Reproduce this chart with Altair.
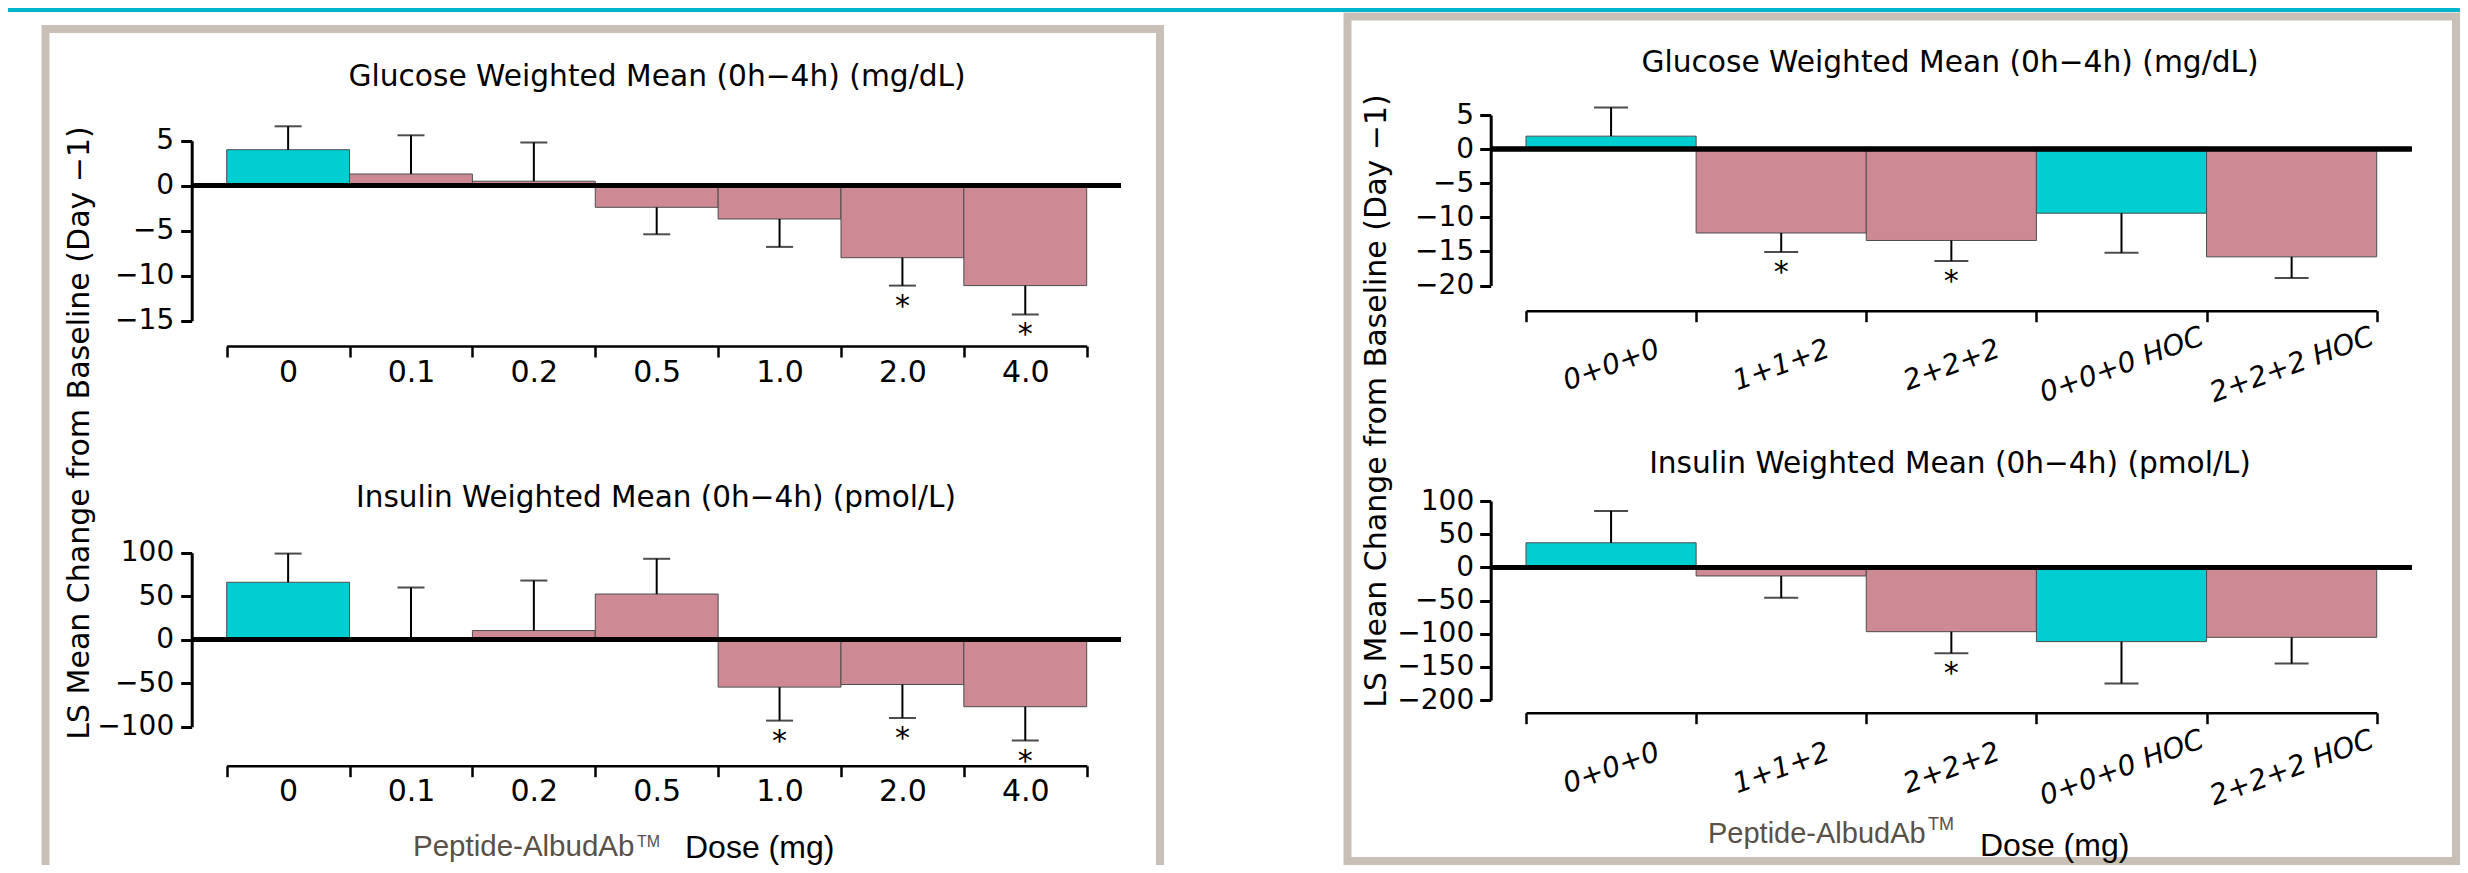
import altair as alt
import pandas as pd

# ---------------- data ----------------
dose_labels = ["0", "0.1", "0.2", "0.5", "1.0", "2.0", "4.0"]
dose_group = ["placebo", "active", "active", "active", "active", "active", "active"]
glucose_dose_mean = [4.0, 1.3, 0.5, -2.4, -3.7, -8.0, -11.1]
glucose_dose_err = [6.6, 5.6, 4.8, -5.4, -6.8, -11.1, -14.3]
glucose_dose_sig = [False, False, False, False, False, True, True]
insulin_dose_mean = [66, 2, 10.5, 52.5, -54.5, -51.5, -77]
insulin_dose_err = [99, 60, 68, 93, -93, -90, -116]
insulin_dose_sig = [False, False, False, False, True, True, True]

regimen_labels = ["0+0+0", "1+1+2", "2+2+2", "0+0+0 HOC", "2+2+2 HOC"]
regimen_group = ["placebo", "active", "active", "placebo", "active"]
glucose_reg_mean = [1.9, -12.3, -13.4, -9.4, -15.8]
glucose_reg_err = [6.1, -15.1, -16.4, -15.2, -18.9]
glucose_reg_sig = [False, True, True, False, False]
insulin_reg_mean = [37, -13, -97, -112, -105.5]
insulin_reg_err = [85, -46, -129.5, -175, -145]
insulin_reg_sig = [False, False, True, False, False]

glucose_ticks_dose = [-15, -10, -5, 0, 5]
insulin_ticks_dose = [-100, -50, 0, 50, 100]
glucose_ticks_reg = [-20, -15, -10, -5, 0, 5]
insulin_ticks_reg = [-200, -150, -100, -50, 0, 50, 100]

title_glucose = "Glucose Weighted Mean (0h\u22124h) (mg/dL)"
title_insulin = "Insulin Weighted Mean (0h\u22124h) (pmol/L)"
y_title = "LS Mean Change from Baseline (Day \u22121)"

# ---------------- style ----------------
W, H = 2452, 857
TEAL = "#00CED1"
ROSE = "#CD8A94"
FRAME = "#C8BFB6"
BAND = "#00B5CB"
CHART_FONT = "DejaVu Sans"
NOTE_FONT = "Liberation Sans"

color_scale = alt.Scale(domain=["placebo", "active"], range=[TEAL, ROSE])


def panel(cats, groups, means, errs, sigs, ydom, ypx, yticks, band, axis_x,
          axis_y, zero_end, cap, angle, lab_size, lab_pad, ylab_pad):
    df = pd.DataFrame({"cat": cats, "grp": groups, "mean": means,
                       "err": errs, "sig": sigs})
    xs = alt.Scale(domain=cats, range=list(band), paddingInner=0, paddingOuter=0)
    ys = alt.Scale(domain=list(ydom), range=list(ypx), nice=False, zero=False)
    if angle == 0:
        xaxis = alt.Axis(orient="bottom", offset=axis_y - H, tickBand="extent",
                         tickSize=11, tickWidth=2.5, domainWidth=2.5,
                         labelAngle=0, labelFontSize=lab_size,
                         labelPadding=lab_pad, labelOverlap=False,
                         labelLimit=400, title=None)
    else:
        xaxis = alt.Axis(orient="bottom", offset=axis_y - H, tickBand="extent",
                         tickSize=11, tickWidth=2.5, domainWidth=2.5,
                         labelAngle=angle, labelAlign="center",
                         labelBaseline="middle", labelFontSize=lab_size,
                         labelFontStyle="italic",
                         labelPadding=lab_pad, labelOverlap=False,
                         labelLimit=400, title=None)
    yaxis = alt.Axis(orient="left", offset=-axis_x, values=yticks,
                     tickSize=11, tickWidth=3, domainWidth=3,
                     labelFontSize=28, labelPadding=ylab_pad,
                     labelOverlap=False, title=None)
    base = alt.Chart(df)
    bars = base.mark_bar(stroke="#4d4d4d", strokeWidth=1).encode(
        x=alt.X("cat:N", scale=xs, axis=xaxis, sort=cats),
        y=alt.Y("mean:Q", scale=ys, axis=yaxis),
        y2=alt.datum(0),
        color=alt.Color("grp:N", scale=color_scale, legend=None),
    )
    err = base.mark_rule(color="black", strokeWidth=2).encode(
        x=alt.X("cat:N", sort=cats), y="mean:Q", y2="err:Q")
    caps = base.mark_tick(color="black", thickness=2, size=cap).encode(
        x=alt.X("cat:N", sort=cats), y="err:Q")
    stars = base.transform_filter("datum.sig").mark_text(
        text="*", font=CHART_FONT, fontSize=30, dy=30, baseline="alphabetic",
        color="black").encode(x=alt.X("cat:N", sort=cats), y="err:Q")
    zero = base.mark_rule(color="black", strokeWidth=4.5).encode(
        x=alt.value(axis_x), x2=alt.value(zero_end), y=alt.datum(0))
    return alt.layer(bars, err, caps, stars, zero)


left_band = (218.7, 1078.7)
right_band = (1518.0, 2368.7)

lg = panel(dose_labels, dose_group, glucose_dose_mean, glucose_dose_err,
           glucose_dose_sig, (-15, 5), (312.7, 132.7), glucose_ticks_dose,
           left_band, 183.7, 338.0, 1113.0, 27, 0, 30, 0, 7)
li = panel(dose_labels, dose_group, insulin_dose_mean, insulin_dose_err,
           insulin_dose_sig, (-100, 100), (718.7, 544.7), insulin_ticks_dose,
           left_band, 183.7, 757.7, 1113.0, 27, 0, 30, 0, 7)
rg = panel(regimen_labels, regimen_group, glucose_reg_mean, glucose_reg_err,
           glucose_reg_sig, (-20, 5), (277.5, 107.0), glucose_ticks_reg,
           right_band, 1482.7, 302.7, 2403.7, 34, -20, 28, 43.5, 6)
ri = panel(regimen_labels, regimen_group, insulin_reg_mean, insulin_reg_err,
           insulin_reg_sig, (-200, 100), (692.0, 493.0), insulin_ticks_reg,
           right_band, 1482.7, 704.7, 2403.7, 34, -20, 28, 44.5, 6)

# ---------------- decorations ----------------
blank = alt.Data(values=[{}])


def frame(x, x2, y, y2):
    return alt.Chart(blank).mark_rect(
        fill="white", fillOpacity=0, stroke=FRAME, strokeWidth=8).encode(
        x=alt.value(x), x2=alt.value(x2), y=alt.value(y), y2=alt.value(y2))


def note(text, x, y, **kw):
    return alt.Chart(blank).mark_text(**kw).encode(
        x=alt.value(x), y=alt.value(y), text=alt.value(text))


top_band = alt.Chart(blank).mark_rect(color=BAND).encode(
    x=alt.value(0), x2=alt.value(W), y=alt.value(0), y2=alt.value(4))

decor = [
    top_band,
    frame(37.5, 1152, 21, 960),
    frame(1339.5, 2448, 8.5, 853),
]

texts = [
    note(title_glucose, 649, 69, font=CHART_FONT, fontSize=29.7,
         align="center", baseline="middle", color="black"),
    note(title_insulin, 648, 490, font=CHART_FONT, fontSize=29.5,
         align="center", baseline="middle", color="black"),
    note(title_glucose, 1942, 55, font=CHART_FONT, fontSize=29.7,
         align="center", baseline="middle", color="black"),
    note(title_insulin, 1942, 456, font=CHART_FONT, fontSize=29.6,
         align="center", baseline="middle", color="black"),
    note(y_title, 80.5, 425, font=CHART_FONT, fontSize=30, angle=270,
         align="center", baseline="alphabetic", color="black"),
    note(y_title, 1378, 393, font=CHART_FONT, fontSize=30, angle=270,
         align="center", baseline="alphabetic", color="black"),
    note("Peptide-AlbudAb", 405, 848, font=NOTE_FONT, fontSize=29.5,
         align="left", baseline="alphabetic", color="#595047"),
    note("TM", 629, 839, font=NOTE_FONT, fontSize=16,
         align="left", baseline="alphabetic", color="#595047"),
    note("Dose (mg)", 677, 850, font=NOTE_FONT, fontSize=32,
         align="left", baseline="alphabetic", color="black"),
    note("Peptide-AlbudAb", 1700, 835, font=NOTE_FONT, fontSize=29,
         align="left", baseline="alphabetic", color="#595047"),
    note("TM", 1920, 822, font=NOTE_FONT, fontSize=18,
         align="left", baseline="alphabetic", color="#595047"),
    note("Dose (mg)", 1972, 848, font=NOTE_FONT, fontSize=32,
         align="left", baseline="alphabetic", color="black"),
]

chart = alt.layer(*decor, lg, li, rg, ri, *texts).resolve_scale(
    x="independent", y="independent", color="shared"
).properties(
    width=W, height=H, padding=0, background="white",
    autosize=alt.AutoSizeParams(type="none"),
).configure_view(stroke=None).configure_axis(
    domainColor="black", tickColor="black", labelColor="black",
    labelFont=CHART_FONT, grid=False,
)

chart.save("out.html", embed_options={"renderer": "svg", "actions": False})
